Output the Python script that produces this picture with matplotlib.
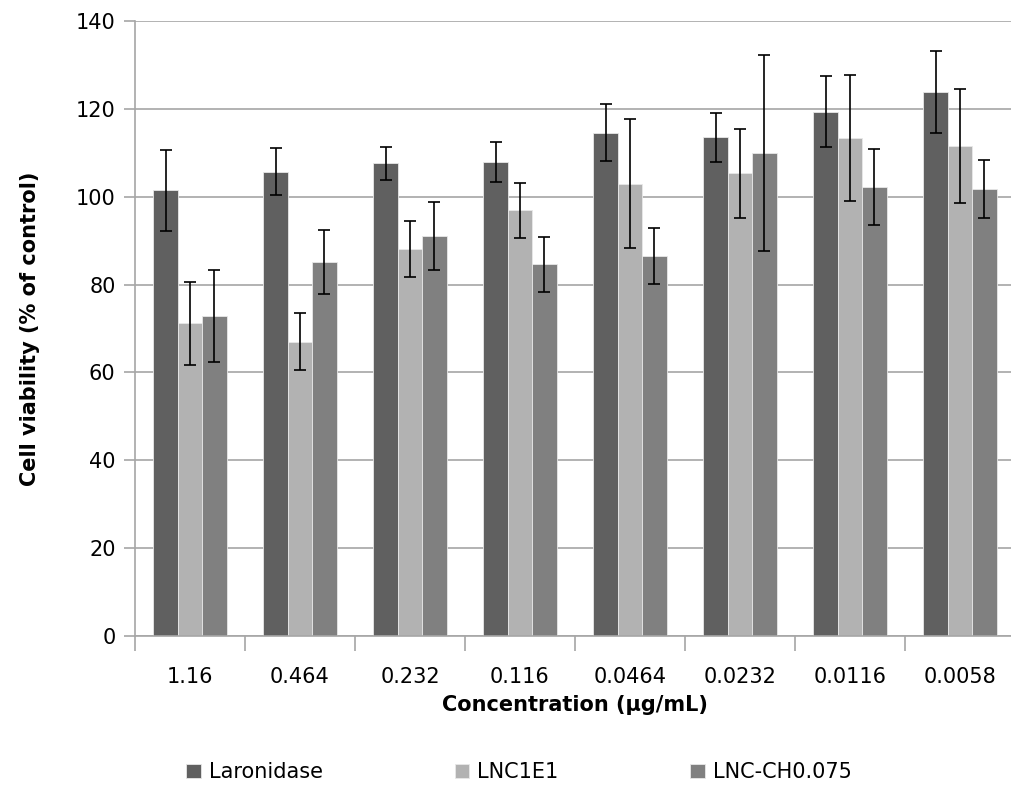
import numpy as np
import matplotlib.pyplot as plt

# concentrations (ug/mL) and measured viability
concentrations = ['1.16', '0.464', '0.232', '0.116', '0.0464', '0.0232', '0.0116', '0.0058']
series_names = ['Laronidase', 'LNC1E1', 'LNC-CH0.075']

laronidase = [101.5, 105.7, 107.6, 107.9, 114.6, 113.5, 119.4, 123.9]
laronidase_err = [9.2, 5.3, 3.7, 4.6, 6.5, 5.6, 8.0, 9.3]

lnc1e1 = [71.2, 67.0, 88.1, 96.9, 103.0, 105.3, 113.3, 111.6]
lnc1e1_err = [9.4, 6.5, 6.4, 6.3, 14.7, 10.2, 14.3, 13.0]

lnc_ch = [72.8, 85.1, 91.0, 84.6, 86.5, 110.0, 102.2, 101.7]
lnc_ch_err = [10.5, 7.3, 7.7, 6.3, 6.4, 22.3, 8.7, 6.6]

colors = ['#606060', '#b2b2b2', '#808080']

fig = plt.figure(figsize=(10.11, 7.87), dpi=100)
ax = fig.add_axes([0.1335, 0.1919, 0.8704, 0.7814])

x = np.arange(len(concentrations))
w = 0.222
values = [laronidase, lnc1e1, lnc_ch]
errors = [laronidase_err, lnc1e1_err, lnc_ch_err]
for i, (v, e) in enumerate(zip(values, errors)):
    ax.bar(x + (i - 1) * w, v, w, color=colors[i], edgecolor='#e8e8e8', linewidth=0.6,
           label=series_names[i], zorder=2,
           yerr=e, error_kw=dict(ecolor='black', elinewidth=1.2, capsize=4.5, capthick=1.2))

ax.set_xlim(-0.5, len(concentrations) - 0.5)
ax.set_ylim(0, 140)
ax.set_yticks(range(0, 141, 20))
ax.yaxis.grid(True, color='#a6a6a6', linewidth=1.2, zorder=0)
ax.set_axisbelow(True)

for s in ['top', 'right']:
    ax.spines[s].set_visible(False)
ax.spines['left'].set_color('#a6a6a6')
ax.spines['bottom'].set_color('#a6a6a6')
ax.spines['left'].set_linewidth(1.2)
ax.spines['bottom'].set_linewidth(1.2)

ax.set_xticks(x)
ax.set_xticklabels(concentrations)
ax.set_xticks(np.arange(-0.5, len(concentrations), 1), minor=True)
ax.tick_params(axis='x', which='major', length=0, pad=22, labelsize=15)
ax.tick_params(axis='x', which='minor', length=11, color='#a6a6a6', width=1.2)
ax.tick_params(axis='y', length=8, color='#a6a6a6', width=1.2, labelsize=15, pad=6)

ax.set_xlabel('Concentration (µg/mL)', fontsize=15, fontweight='bold', labelpad=6)
ax.set_ylabel('Cell viability (% of control)', fontsize=15, fontweight='bold', labelpad=26)

fig.legend(loc='lower left', bbox_to_anchor=(0.172, -0.01), ncol=3, frameon=False,
           fontsize=15, handlelength=0.7, handleheight=0.7, handletextpad=0.4,
           columnspacing=6.3, borderaxespad=0.2)

fig.savefig('out.png', dpi=100)
